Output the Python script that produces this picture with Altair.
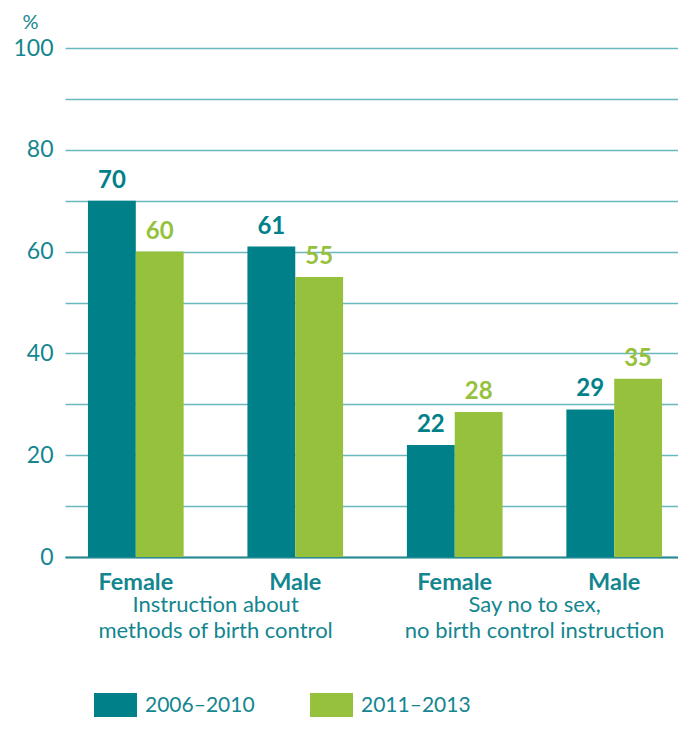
import altair as alt
import pandas as pd

keys = ["F1", "M1", "F2", "M2"]
sex_labels = ["Female", "Male", "Female", "Male"]
periods = ["2006–2010", "2011–2013"]
vals_2006 = [70, 61, 22, 29]
vals_2011 = [60, 55, 28.5, 35]
labels_2006 = ["70", "61", "22", "29"]
labels_2011 = ["60", "55", "28", "35"]
group_keys = ["F1", "F2"]
group_texts = ["Instruction about\nmethods of birth control",
               "Say no to sex,\nno birth control instruction"]

TEAL = "#00818A"
GREEN = "#96C13D"
TXT = "#13868F"
FONT = "Lato"

rows = []
for k, a, b, la, lb in zip(keys, vals_2006, vals_2011, labels_2006, labels_2011):
    rows.append({"key": k, "period": periods[0], "value": a, "label": la})
    rows.append({"key": k, "period": periods[1], "value": b, "label": lb})
df = pd.DataFrame(rows)
gdf = pd.DataFrame({"key": group_keys, "text": group_texts})

label_map = "{" + ",".join(f"'{k}':'{l}'" for k, l in zip(keys, sex_labels)) + "}"

xscale = alt.Scale(domain=keys, paddingInner=0.4, paddingOuter=0.122, align=0.59)
color_scale = alt.Scale(domain=periods, range=[TEAL, GREEN])

x_enc = alt.X("key:N", scale=xscale, sort=keys, title=None,
              axis=alt.Axis(labelExpr=f"{label_map}[datum.value]", labelAngle=0,
                            labelFontWeight="bold", labelFontSize=23.5, labelColor=TXT,
                            labelFont=FONT, labelPadding=13, ticks=False,
                            domainColor="#2A8A92", domainWidth=2, grid=False))
y_enc = alt.Y("value:Q", scale=alt.Scale(domain=[0, 100], nice=False),
              axis=alt.Axis(values=list(range(0, 101, 10)),
                            labelExpr="datum.value % 20 == 0 ? datum.label : ''",
                            labelFontSize=23, labelColor=TXT, labelFont=FONT,
                            labelPadding=12, ticks=False, domain=False,
                            grid=True, gridColor="#6AB7BC", gridWidth=1.5,
                            title="%", titleAngle=0, titleAlign="center",
                            titleBaseline="middle", titleX=-35, titleY=-26,
                            titleFontSize=20, titleFontWeight="normal",
                            titleColor=TXT, titleFont=FONT))

bars = alt.Chart(df).mark_bar().encode(
    x=x_enc,
    xOffset=alt.XOffset("period:N", sort=periods),
    y=y_enc,
    color=alt.Color("period:N", scale=color_scale, sort=periods,
                    legend=alt.Legend(title=None, orient="none", legendX=29, legendY=636,
                                      direction="horizontal",
                                      symbolType="M-1,-0.58L1,-0.58L1,0.58L-1,0.58Z",
                                      symbolSize=1849, symbolStrokeWidth=0,
                                      symbolOpacity=1, labelFontSize=21,
                                      labelColor=TXT, labelFont=FONT, labelOffset=8,
                                      columnPadding=55, padding=0)),
)

texts = alt.Chart(df).mark_text(fontWeight="bold", fontSize=24, font=FONT,
                                baseline="alphabetic", dy=-13).encode(
    x=alt.X("key:N", scale=xscale, sort=keys),
    xOffset=alt.XOffset("period:N", sort=periods),
    y=alt.Y("value:Q"),
    text="label:N",
    color=alt.Color("period:N", scale=color_scale, sort=periods, legend=None),
)

groups = alt.Chart(gdf).mark_text(fontSize=22, font=FONT, color=TXT, lineBreak="\n",
                                  lineHeight=26, baseline="top", align="center",
                                  dx=32).encode(
    x=alt.X("key:N", scale=xscale, sort=keys, bandPosition=1),
    y=alt.value(547),
    text="text:N",
)

chart = alt.layer(bars, texts, groups).properties(
    width=613, height=509,
    autosize=alt.AutoSizeParams(type="none"),
    padding={"left": 57, "top": 40, "right": 0, "bottom": 160},
).configure_view(stroke=None)

chart.save("out.html", embed_options={"renderer": "svg", "actions": False})
